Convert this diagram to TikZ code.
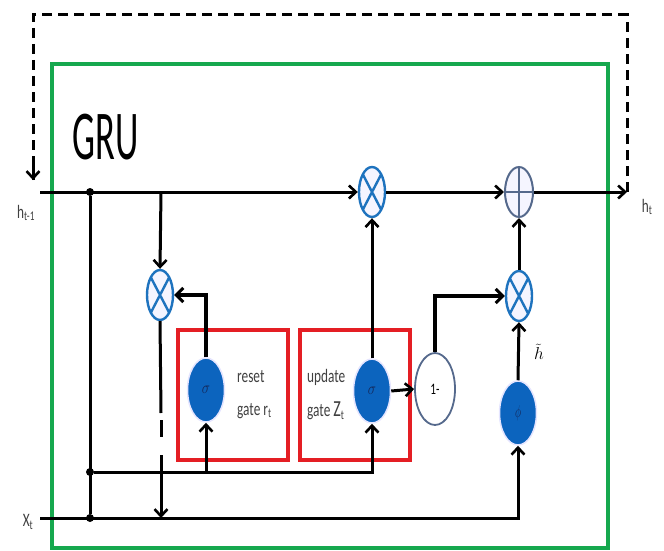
\documentclass[tikz,border=0pt]{standalone}
\usepackage{fontspec}
\setmainfont{Carlito}
\usetikzlibrary{shapes.geometric,arrows.meta}
\definecolor{gruGreen}{RGB}{22,168,78}
\definecolor{gateRed}{RGB}{228,30,36}
\definecolor{actBlue}{RGB}{12,100,190}
\definecolor{opBlue}{RGB}{30,115,190}
\definecolor{plusGray}{RGB}{85,105,140}
\definecolor{symNavy}{RGB}{20,40,90}
\begin{document}
\begin{tikzpicture}[x=1pt,y=-1pt,
  wire/.style={line width=3pt},
  conn/.style={line width=3pt,-{Straight Barb[length=7pt,width=13pt,line width=2.6pt]}},
  thickconn/.style={line width=3.8pt,-{Straight Barb[length=7pt,width=14pt,line width=3pt]}},
  dotnode/.style={circle,fill=black,inner sep=0pt,minimum size=8pt},
  mult/.style={ellipse,draw=opBlue,line width=2.4pt,fill=blue!4,minimum width=26pt,minimum height=50pt,inner sep=0pt,
    path picture={\draw[opBlue,line width=2.4pt] (path picture bounding box.north west)--(path picture bounding box.south east)
      (path picture bounding box.south west)--(path picture bounding box.north east);}},
  plusop/.style={ellipse,draw=plusGray,line width=2pt,fill=blue!4,minimum width=28pt,minimum height=50pt,inner sep=0pt,
    path picture={\draw[plusGray,line width=1.8pt] (path picture bounding box.north)--(path picture bounding box.south)
      (path picture bounding box.west)--(path picture bounding box.east);}},
  act/.style={ellipse,fill=actBlue,draw=blue!10,line width=1.5pt,minimum width=37pt,minimum height=64pt,inner sep=0pt,text=symNavy,font=\fontsize{18}{18}\selectfont},
  onem/.style={ellipse,draw=plusGray,line width=1.8pt,fill=white,minimum width=40pt,minimum height=72pt,inner sep=0pt,font=\fontsize{16}{16}\selectfont},
  gatebox/.style={draw=gateRed,line width=3.2pt},
  lbl/.style={inner sep=0pt,font=\fontsize{19}{19}\selectfont,text=black!75},
  dashline/.style={line width=3pt,dash pattern=on 10pt off 6pt}
]
\useasboundingbox (0,0) rectangle (664,551);
% green frame
\draw[gruGreen,line width=3.8pt] (52,64) rectangle (608,548);
\node[inner sep=0pt] (gru) at (106,137) {\fontsize{70}{70}\selectfont\scalebox{0.52}[1]{GRU}};
% gate boxes
\draw[gatebox] (178,330) rectangle (288,460);
\draw[gatebox] (300,330) rectangle (410,460);
% operators
\node[mult] (mx1) at (372,192) {};
\node[plusop] (pl) at (519,192) {};
\node[mult] (mr) at (160,295) {};
\node[mult] (ml) at (519,296) {};
\node[act] (rs) at (206,390) {\scalebox{0.8}[1]{$\sigma$}};
\node[act] (us) at (372,391) {\scalebox{0.8}[1]{$\sigma$}};
\node[act] (ph) at (518,413) {\scalebox{0.6}[1]{$\phi$}};
\node[onem] (om) at (435,389) {\scalebox{0.7}[1]{1-}};
% labels
\node[lbl] (hprev) at (26,213) {\scalebox{0.7}[1]{h\textsubscript{t-1}}};
\node[lbl] (hnext) at (647,207) {\scalebox{0.7}[1]{h\textsubscript{t}}};
\node[lbl] (xt) at (28,522) {\scalebox{0.7}[1]{X\textsubscript{t}}};
\node[lbl,anchor=west] (rst) at (237,377) {\scalebox{0.7}[1]{reset}};
\node[lbl,anchor=west] (rgt) at (237,411) {\scalebox{0.7}[1]{gate r\textsubscript{t}}};
\node[lbl,anchor=west] (upd) at (307,377) {\scalebox{0.7}[1]{update}};
\node[lbl,anchor=west] (ugt) at (307,411) {\scalebox{0.7}[1]{gate {\fontsize{23}{23}\selectfont Z}\textsubscript{t}}};
\node[inner sep=0pt,font=\fontsize{17}{17}\selectfont] (htl) at (539,352) {$\tilde{h}$};
% coordinates
\coordinate (hin) at (40,192);
\coordinate (hout) at (627,192);
\coordinate (xin) at (40,518);
\coordinate (br) at (161,192);
\node[dotnode] (d1) at (90,192) {};
\node[dotnode] (d2) at (90,472) {};
\node[dotnode] (d3) at (90,518) {};
\coordinate (ga) at (161,413);
\coordinate (gb) at (161,420);
\coordinate (gc) at (161,437);
\coordinate (gd) at (161,455);
\coordinate (ge) at (161,518);
\coordinate (dtr) at (627,15);
\coordinate (dtl) at (33,15);
\coordinate (dend) at (33,180);
% h line
\draw[conn] (hin) -- (mx1.west);
\draw[conn] (mx1.east) -- (pl.west);
\draw[conn] (pl.east) -- (hout);
% x line
\draw[conn] (xin) -| (ph.south);
\draw[wire] (d1) -- (d3);
% reset branch
\draw[conn] (br) -- (mr.north);
\draw[wire] (mr.south) -- (ga);
\draw[wire] (gb) -- (gc);
\draw[conn] (gd) -- (ge);
% gates input
\draw[conn] (d2) -| (us.south);
\draw[conn] (d2 -| rs.south) -- (rs.south);
\draw[thickconn] (rs.north) |- (mr.east);
% update
\draw[conn] (us.north) -- (mx1.south);
\draw[conn] (us.east) -- (om.west);
\draw[thickconn] (om.north) |- (ml.west);
% candidate
\draw[conn] (ph.north) -- (ml.south);
\draw[conn] (ml.north) -- (pl.south);
% recurrent dashed
\draw[dashline] (hout) -- (dtr) -- (dtl) -- (dend);
\draw[line width=3pt,-{Straight Barb[length=7pt,width=13pt,line width=2.6pt]}] (33,166) -- (dend);
\end{tikzpicture}
\end{document}
